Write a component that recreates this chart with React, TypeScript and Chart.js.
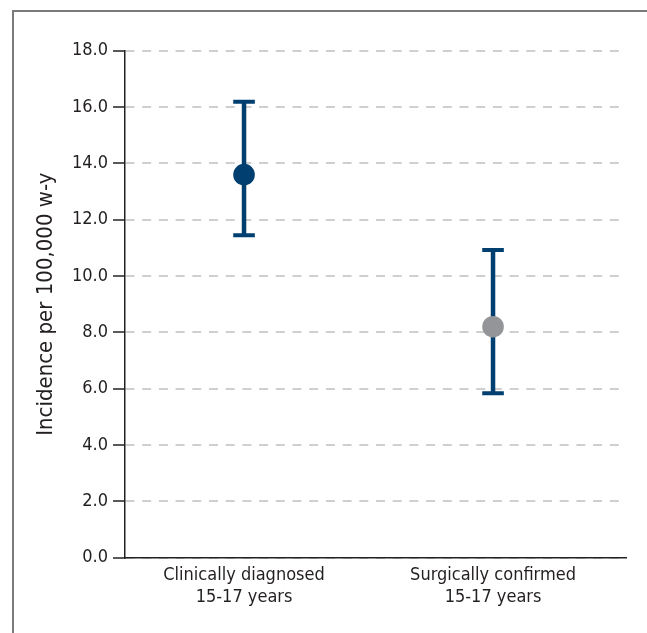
import React, { useEffect, useRef } from "react";
import { Chart, registerables } from "chart.js";

Chart.register(...registerables);

const categories: string[][] = [
  ["Clinically diagnosed", "15-17 years"],
  ["Surgically confirmed", "15-17 years"],
];
const estimates: number[] = [13.6, 8.2];
const lowerCI: number[] = [11.45, 5.84];
const upperCI: number[] = [16.19, 10.92];
const pointColors: string[] = ["#003f6f", "#939598"];
const yTickValues: number[] = [0, 2, 4, 6, 8, 10, 12, 14, 16, 18];
const yTitle = "Incidence per 100,000 w-y";

const NAVY = "#003f6f";
const FONT = "'DejaVu Sans Condensed', 'Liberation Sans Narrow', sans-serif";

export default function App() {
  const ref = useRef<HTMLCanvasElement | null>(null);

  useEffect(() => {
    if (!ref.current) return;
    const whiskers = categories.map((_, i) => ({
      type: "scatter" as const,
      data: [
        { x: i, y: lowerCI[i] },
        { x: i, y: upperCI[i] },
      ],
      showLine: true,
      borderColor: NAVY,
      borderWidth: 4.5,
      pointRadius: 0,
      order: 3,
    }));
    const chart = new Chart(ref.current, {
      type: "scatter",
      data: {
        datasets: [
          {
            data: estimates.map((y, i) => ({ x: i, y })),
            backgroundColor: pointColors,
            borderColor: pointColors,
            pointRadius: 10.8,
            pointBorderWidth: 0,
            order: 0,
          },
          {
            data: [
              ...lowerCI.map((y, i) => ({ x: i, y })),
              ...upperCI.map((y, i) => ({ x: i, y })),
            ],
            pointStyle: "line",
            pointRadius: 10.8,
            borderColor: NAVY,
            pointBorderWidth: 4,
            order: 1,
          },
          ...whiskers,
        ] as any,
      },
      options: {
        animation: false,
        responsive: true,
        maintainAspectRatio: false,
        layout: { padding: { top: 50.7, right: 21, left: 0, bottom: 0 } },
        plugins: { legend: { display: false }, tooltip: { enabled: false } },
        scales: {
          x: {
            type: "linear",
            min: -0.478,
            max: 1.534,
            afterBuildTicks: (scale: any) => {
              scale.ticks = categories.map((_, i) => ({ value: i }));
            },
            afterFit: (scale: any) => {
              scale.height = 633 - 557.7;
            },
            grid: { display: false, drawTicks: false },
            border: { display: true, color: "#222", width: 1.5 },
            ticks: {
              padding: 6.3,
              color: "#231f20",
              font: { family: FONT, size: 18, lineHeight: 22 / 18 },
              maxRotation: 0,
              autoSkip: false,
              callback: (v: any) => categories[Number(v)] ?? "",
            },
          },
          y: {
            type: "linear",
            min: 0,
            max: 18,
            afterBuildTicks: (scale: any) => {
              scale.ticks = yTickValues.map((v) => ({ value: v }));
            },
            afterFit: (scale: any) => {
              scale.width = 125;
            },
            grid: {
              color: "#cfcfcf",
              lineWidth: 2,
              tickColor: "#222",
              tickLength: 12,
              tickWidth: 1.5,
              tickBorderDash: [],
            },
            border: { display: true, color: "#222", width: 1.5, dash: [9, 7.7] },
            ticks: {
              padding: 5,
              color: "#231f20",
              font: { family: FONT, size: 18 },
              callback: (v: any) => Number(v).toFixed(1),
            },
            title: {
              display: true,
              text: yTitle,
              color: "#231f20",
              font: { family: FONT, size: 22 },
              padding: { top: 33, bottom: 0 },
            },
          },
        },
      } as any,
    });
    return () => chart.destroy();
  }, []);

  return (
    <>
      <div
        style={{
          position: "absolute",
          left: 12,
          top: 10,
          width: 640,
          height: 630,
          borderTop: "2px solid #7a7a7a",
          borderLeft: "2px solid #7a7a7a",
        }}
      />
      <div style={{ position: "absolute", left: 0, top: 0, width: 647, height: 633 }}>
        <canvas ref={ref} />
      </div>
    </>
  );
}
